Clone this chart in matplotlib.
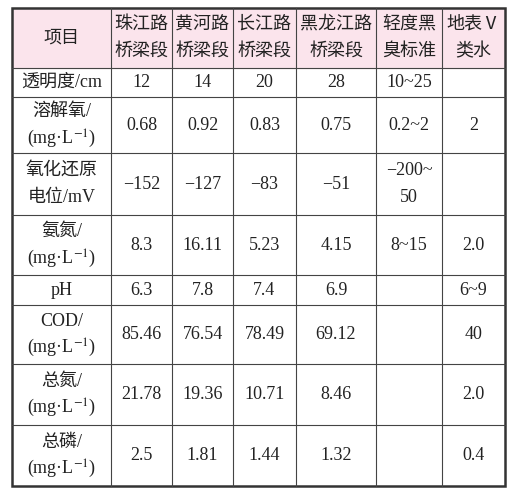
import matplotlib
matplotlib.use("Agg")
import matplotlib.pyplot as plt
from matplotlib.patches import Rectangle

plt.rcParams['font.family'] = ['Liberation Serif', 'Noto Sans CJK SC', 'DejaVu Sans']
plt.rcParams['mathtext.fontset'] = 'stix'

headers = ["项目", "珠江路\n桥梁段", "黄河路\n桥梁段", "长江路\n桥梁段", "黑龙江路\n桥梁段", "轻度黑\n臭标准", "地表Ⅴ\n类水"]
unit = "(mg·L$^{-1}$)"
items = ["透明度/cm", "溶解氧/\n" + unit, "氧化还原\n电位/mV", "氨氮/\n" + unit, "pH",
         "COD/\n" + unit, "总氮/\n" + unit, "总磷/\n" + unit]
zhujiang = ["12", "0.68", "−152", "8.3", "6.3", "85.46", "21.78", "2.5"]
huanghe = ["14", "0.92", "−127", "16.11", "7.8", "76.54", "19.36", "1.81"]
changjiang = ["20", "0.83", "−83", "5.23", "7.4", "78.49", "10.71", "1.44"]
heilongjiang = ["28", "0.75", "−51", "4.15", "6.9", "69.12", "8.46", "1.32"]
qingdu = ["10~25", "0.2~2", "−200~\n50", "8~15", "", "", "", ""]
dibiao = ["", "2", "", "2.0", "6~9", "40", "2.0", "0.4"]
cols = [items, zhujiang, huanghe, changjiang, heilongjiang, qingdu, dibiao]

W, H = 517, 494
xs = [12, 111, 172, 233, 296, 376, 442, 505]
ys = [8, 68, 97, 153, 215, 275, 305, 364, 425, 486]

fig = plt.figure(figsize=(W/100, H/100), dpi=100)
ax = fig.add_axes([0, 0, 1, 1])
ax.set_xlim(0, W); ax.set_ylim(H, 0); ax.axis('off')

ax.add_patch(Rectangle((xs[0], ys[0]), xs[-1]-xs[0], ys[1]-ys[0], color='#fbe4ec', zorder=0))
lc = '#444444'
for x in xs[1:-1]:
    ax.plot([x, x], [ys[0], ys[-1]], color=lc, lw=0.8)
for y in ys[1:-1]:
    ax.plot([xs[0], xs[-1]], [y, y], color=lc, lw=0.8)
ax.add_patch(Rectangle((xs[0], ys[0]), xs[-1]-xs[0], ys[-1]-ys[0], fill=False, ec='#333333', lw=1.8))

fs = 13
gap = 27

def put(cx, cy, s):
    lines = s.split("\n")
    n = len(lines)
    for k, ln in enumerate(lines):
        y = cy + (k - (n-1)/2) * gap
        ax.text(cx, y, ln, ha='center', va='center', fontsize=fs, color='#222222')

for j, h in enumerate(headers):
    put((xs[j]+xs[j+1])/2, (ys[0]+ys[1])/2, h)
for j, col in enumerate(cols):
    for i, v in enumerate(col):
        put((xs[j]+xs[j+1])/2, (ys[i+1]+ys[i+2])/2, v)

fig.savefig("out.png", dpi=100)
